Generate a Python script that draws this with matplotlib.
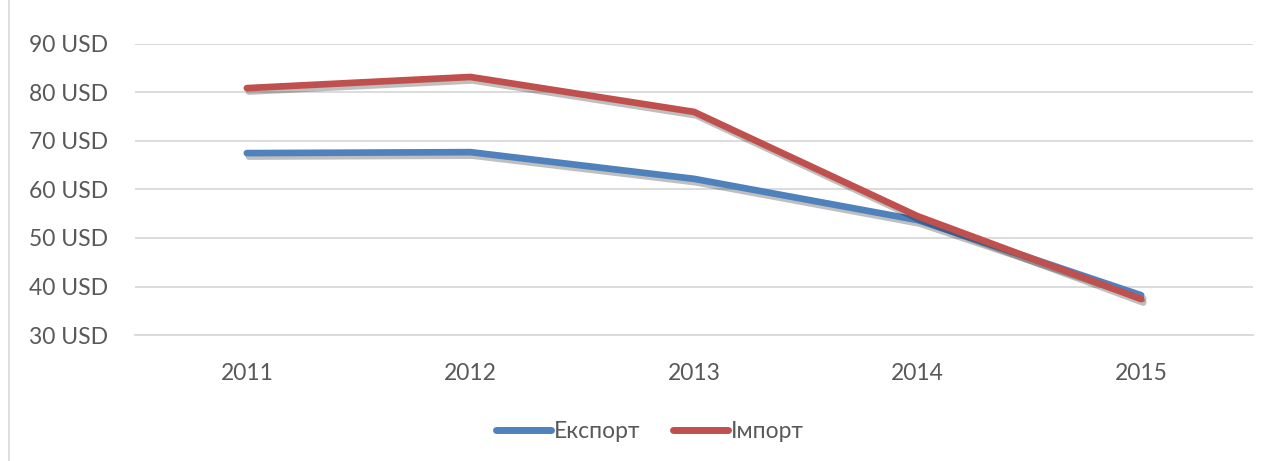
import matplotlib.pyplot as plt
import matplotlib.patheffects as pe
from matplotlib.patches import Rectangle

years = ["2011", "2012", "2013", "2014", "2015"]
export_vals = [67.5, 67.7, 62.2, 53.7, 38.2]
import_vals = [80.9, 83.2, 76.0, 54.5, 37.4]
y_ticks = [30, 40, 50, 60, 70, 80, 90]

plt.rcParams["font.family"] = ["Lato", "DejaVu Sans"]
TXT = "#595959"

fig = plt.figure(figsize=(12.74, 4.61), dpi=100)
ax = fig.add_axes([0.106, 0.2733, 0.8775, 0.6313])

shadow = [pe.SimpleLineShadow(offset=(1.5, -2.5), alpha=0.25, rho=0.3), pe.Normal()]
x = range(len(years))
ax.plot(x, export_vals, color="#4f81bd", lw=4.8, solid_capstyle="round",
        solid_joinstyle="miter", label="Експорт", path_effects=shadow)
ax.plot(x, import_vals, color="#c0504d", lw=4.8, solid_capstyle="round",
        solid_joinstyle="miter", label="Імпорт", path_effects=shadow)

ax.set_xlim(-0.5, len(years) - 0.5)
ax.set_ylim(30, 90)
ax.set_xticks(list(x))
ax.set_xticklabels(years)
ax.set_yticks(y_ticks)
ax.set_yticklabels([f"{v} USD" for v in y_ticks])
ax.tick_params(length=0, labelsize=16.5, labelcolor=TXT)
ax.tick_params(axis="x", pad=20)
ax.tick_params(axis="y", pad=19.5)

ax.grid(axis="y", color="#d9d9d9", lw=1.3)
ax.set_axisbelow(True)
for s in ["top", "right", "left"]:
    ax.spines[s].set_visible(False)
ax.spines["bottom"].set_color("#d9d9d9")
ax.spines["bottom"].set_linewidth(1.3)

leg = ax.legend(loc="center", bbox_to_anchor=(0.5 + (650 - 694) / 1118, -0.33),
                ncol=2, frameon=False, fontsize=16.5, handlelength=2.4,
                handletextpad=0.15, columnspacing=1.4)
for t in leg.get_texts():
    t.set_color(TXT)
for h in leg.get_lines():
    h.set_path_effects([])
    h.set_linewidth(5)

fig.patches.append(Rectangle((9 / 1274, -0.01), 1.1, 1.02, transform=fig.transFigure,
                             fill=False, edgecolor="#d9d9d9", lw=1.2))

fig.savefig("out.png", dpi=100)
